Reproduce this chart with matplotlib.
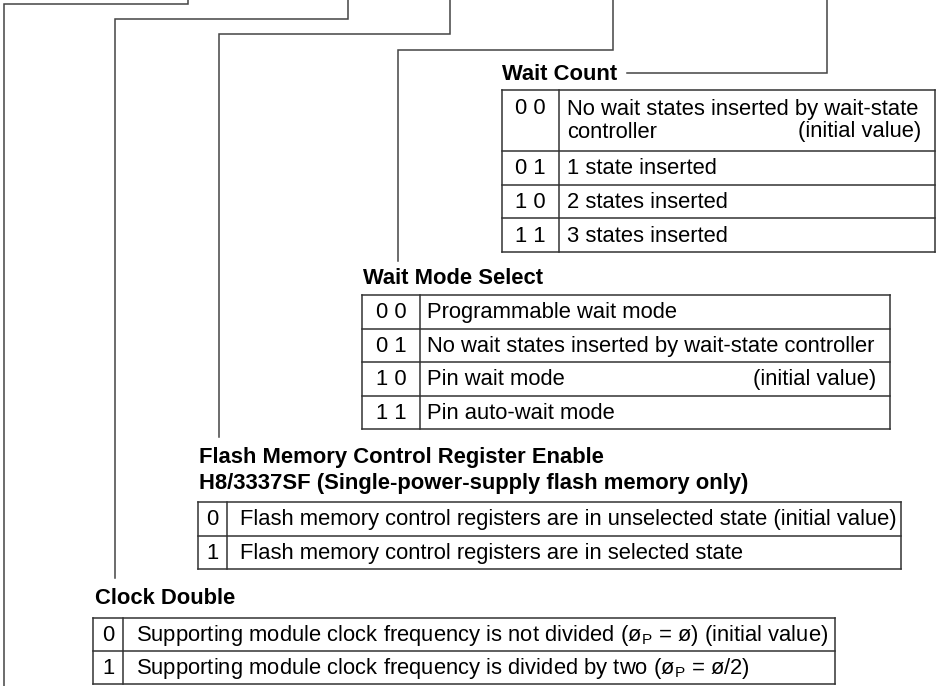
import matplotlib.pyplot as plt

plt.rcParams['font.family'] = ['Liberation Sans', 'DejaVu Sans']
plt.rcParams['mathtext.fontset'] = 'custom'
plt.rcParams['mathtext.rm'] = 'Liberation Sans'

# --- Datos de las tablas ---
wc_title = "Wait Count"
wc_codes = ["0 0", "0 1", "1 0", "1 1"]
wc_desc = [["No wait states inserted by wait-state", "controller"],
           ["1 state inserted"], ["2 states inserted"], ["3 states inserted"]]
wc_notes = ["(initial value)", "", "", ""]

wm_title = "Wait Mode Select"
wm_codes = ["0 0", "0 1", "1 0", "1 1"]
wm_desc = [["Programmable wait mode"],
           ["No wait states inserted by wait-state controller"],
           ["Pin wait mode"], ["Pin auto-wait mode"]]
wm_notes = ["", "", "(initial value)", ""]

fl_title = ["Flash Memory Control Register Enable",
            "H8/3337SF (Single-power-supply flash memory only)"]
fl_codes = ["0", "1"]
fl_desc = [["Flash memory control registers are in unselected state (initial value)"],
           ["Flash memory control registers are in selected state"]]
fl_notes = ["", ""]

cd_title = "Clock Double"
cd_codes = ["0", "1"]
cd_desc = [[r"Supporting module clock frequency is not divided (ø$_{\rm P}$ = ø) (initial value)"],
           [r"Supporting module clock frequency is divided by two (ø$_{\rm P}$ = ø/2)"]]
cd_notes = ["", ""]

FS = 15.8
LC = '#333333'
LW = 1.1

fig = plt.figure(figsize=(9.38, 6.86), dpi=100)
ax = fig.add_axes([0, 0, 1, 1])
ax.set_xlim(0, 938)
ax.set_ylim(686, 0)
ax.axis('off')


def draw_table(x0, xd, x1, y0, row_h, codes, desc, notes, pad):
    y = y0
    ys = [y0]
    for lines, code, note in zip(desc, codes, notes):
        if len(lines) > 1:
            h = 61
            ly = [y + 19, y + 42]
        else:
            h = row_h
            ly = [y + h / 2 + 1]
        ax.text((x0 + xd) / 2, ly[0], code, fontsize=FS, ha='center', va='center')
        for t, yy in zip(lines, ly):
            ax.text(xd + pad, yy, t, fontsize=FS, ha='left', va='center')
        if note:
            ax.text(x1 - 14, ly[-1], note, fontsize=FS, ha='right', va='center')
        y += h
        ys.append(y)
    # bordes
    for yy in ys:
        ax.plot([x0, x1], [yy, yy], color=LC, lw=LW)
    for xx in (x0, xd, x1):
        ax.plot([xx, xx], [ys[0], ys[-1]], color=LC, lw=LW)


# --- Lineas guia ---
leaders = [
    ([188, 188, 4, 4], [0, 4, 4, 686]),
    ([348, 348, 115, 115], [0, 19, 19, 578]),
    ([450, 450, 219, 219], [0, 34, 34, 437]),
    ([613, 613, 398, 398], [0, 50, 50, 261]),
    ([827, 827, 627], [0, 73, 73]),
]
for xs, ys in leaders:
    ax.plot(xs, ys, color='#444444', lw=LW, solid_joinstyle='miter')

# --- Wait Count ---
ax.text(502, 74, wc_title, fontsize=FS, fontweight='bold', ha='left', va='center')
draw_table(502, 559, 935, 90, 33.7, wc_codes, wc_desc, wc_notes, 8)

# --- Wait Mode Select ---
ax.text(363, 278, wm_title, fontsize=FS, fontweight='bold', ha='left', va='center')
draw_table(362, 420, 890, 295, 33.5, wm_codes, wm_desc, wm_notes, 7)

# --- Flash Memory ---
ax.text(199, 458, fl_title[0], fontsize=FS, fontweight='bold', ha='left', va='center')
ax.text(199, 483, fl_title[1], fontsize=FS, fontweight='bold', ha='left', va='center')
draw_table(198, 227, 901, 502, 33.5, fl_codes, fl_desc, fl_notes, 13)

# --- Clock Double ---
ax.text(95, 598, cd_title, fontsize=FS, fontweight='bold', ha='left', va='center')
draw_table(93, 123, 835, 618, 33, cd_codes, cd_desc, cd_notes, 13)

fig.savefig("out.png", dpi=100, facecolor='white')
